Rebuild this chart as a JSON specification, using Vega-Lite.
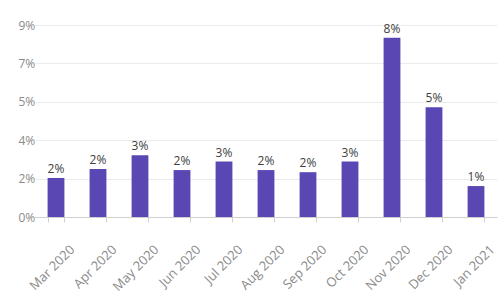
{
  "$schema": "https://vega.github.io/schema/vega-lite/v6.json",
  "autosize": {"type": "none"},
  "width": 462,
  "height": 192,
  "padding": {"left": 35, "top": 25, "right": 3, "bottom": 83},
  "background": "white",
  "config": {"view": {"stroke": null}, "font": "Open Sans"},
  "data": {"values": [
    {"month": "Mar 2020", "value": 0.0183},
    {"month": "Apr 2020", "value": 0.0225},
    {"month": "May 2020", "value": 0.029},
    {"month": "Jun 2020", "value": 0.022},
    {"month": "Jul 2020", "value": 0.026},
    {"month": "Aug 2020", "value": 0.022},
    {"month": "Sep 2020", "value": 0.021},
    {"month": "Oct 2020", "value": 0.026},
    {"month": "Nov 2020", "value": 0.084},
    {"month": "Dec 2020", "value": 0.0515},
    {"month": "Jan 2021", "value": 0.0145}
  ]},
  "encoding": {
    "x": {"field": "month", "type": "nominal", "sort": null,
      "scale": {"paddingInner": 0.6, "paddingOuter": 0.3},
      "axis": {"title": null, "labelAngle": -45, "labelColor": "#8a8a8a", "labelFontSize": 13,
        "tickBand": "extent", "tickColor": "#d0d0d0", "tickSize": 5, "domainColor": "#d0d0d0",
        "labelPadding": 21, "labelOffset": 12}},
    "y": {"field": "value", "type": "quantitative",
      "scale": {"domain": [0, 0.09], "nice": false},
      "axis": {"title": null, "values": [0, 0.018, 0.036, 0.054, 0.072, 0.09], "format": ".0%",
        "labelColor": "#8a8a8a", "labelFontSize": 12, "domain": false, "ticks": false,
        "labelPadding": 17, "gridColor": "#ebebeb", "labelAlign": "left", "labelBaseline": "middle"}}
  },
  "layer": [
    {"mark": {"type": "bar", "color": "#5B47B3"}},
    {"mark": {"type": "text", "dy": -9, "color": "#404040", "fontSize": 12},
      "encoding": {"text": {"field": "value", "type": "quantitative", "format": ".0%"}}}
  ]
}
